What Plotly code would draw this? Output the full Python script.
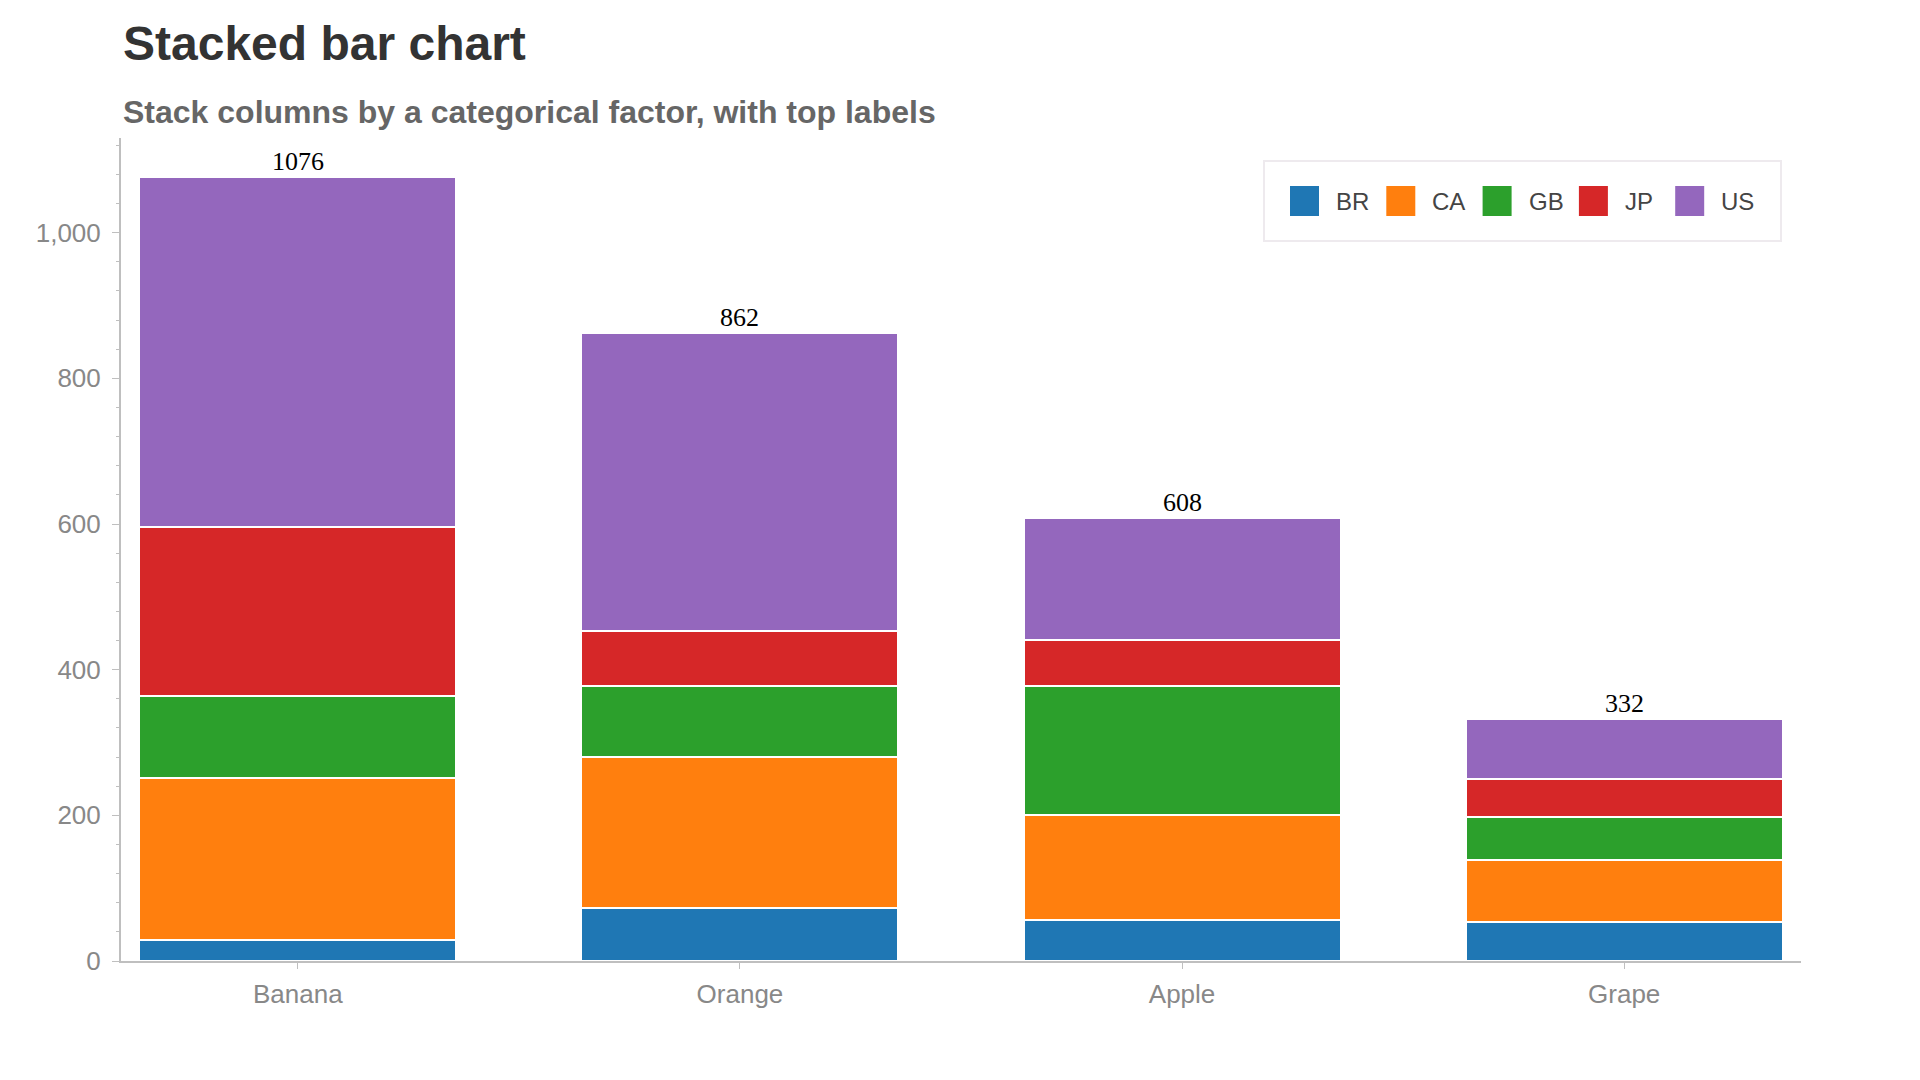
import plotly.graph_objects as go

categories = ["Banana", "Orange", "Apple", "Grape"]
series_names = ["BR", "CA", "GB", "JP", "US"]
BR = [29, 73, 56, 53]
CA = [222, 207, 144, 86]
GB = [113, 97, 177, 59]
JP = [232, 76, 64, 52]
US = [480, 409, 167, 82]
colors = ["#1f77b4", "#ff7f0e", "#2ca02c", "#d62728", "#9467bd"]

series_values = [BR, CA, GB, JP, US]
totals = [sum(v) for v in zip(*series_values)]

# The page body has a default 8px margin; size the figure so it fills the window exactly
OFF = 8
PAGE_W, PAGE_H = 1920, 1080
W, H = PAGE_W - OFF, PAGE_H - OFF
# plot area in page pixels
P_L, P_R, P_T, P_B = 121, 1801, 138, 961
ML, MR, MT, MB = P_L - OFF, PAGE_W - P_R, P_T - OFF, PAGE_H - P_B
PW, PH = P_R - P_L, P_B - P_T

def px(x):
    return (x - P_L) / PW

def py(y):
    return (P_B - y) / PH

fig = go.Figure()
for name, vals, col in zip(series_names, series_values, colors):
    fig.add_trace(go.Bar(
        x=categories, y=vals, name=name,
        marker=dict(color=col, line=dict(color="white", width=2)),
        showlegend=False,
    ))

annotations = []
for cat, tot in zip(categories, totals):
    annotations.append(dict(
        x=cat, y=tot, xref="x", yref="y", text=str(tot), showarrow=False,
        yanchor="bottom", xanchor="center", yshift=-1,
        font=dict(family="Liberation Serif, Times New Roman, serif", size=26, color="black"),
    ))

# Title and subtitle
annotations.append(dict(
    x=0, y=py(43), xref="paper", yref="paper", xanchor="left", yanchor="middle",
    text="<b>Stacked bar chart</b>", showarrow=False,
    font=dict(family="Liberation Sans, Arial, sans-serif", size=48, color="#333333"),
))
annotations.append(dict(
    x=0, y=py(112), xref="paper", yref="paper", xanchor="left", yanchor="middle",
    text="<b>Stack columns by a categorical factor, with top labels</b>", showarrow=False,
    font=dict(family="Liberation Sans, Arial, sans-serif", size=32, color="#666666"),
))

# Legend (drawn manually to match large square swatches)
shapes = []
LB_L, LB_R, LB_T, LB_B = 1264, 1781, 161, 241
shapes.append(dict(type="rect", xref="paper", yref="paper",
                   x0=px(LB_L), x1=px(LB_R), y0=py(LB_B), y1=py(LB_T),
                   line=dict(color="#eeeaee", width=2), fillcolor="white", layer="above"))
item_x0, pitch, sq_w, sq_top, sq_bot = 1290, 96.3, 29, 186, 216
for i, (name, col) in enumerate(zip(series_names, colors)):
    x0 = item_x0 + i * pitch
    shapes.append(dict(type="rect", xref="paper", yref="paper",
                       x0=px(x0), x1=px(x0 + sq_w), y0=py(sq_bot), y1=py(sq_top),
                       line=dict(width=0), fillcolor=col, layer="above"))
    annotations.append(dict(
        x=px(x0 + sq_w + 15), y=py((sq_top + sq_bot) / 2), xref="paper", yref="paper",
        xanchor="left", yanchor="middle", text=name, showarrow=False,
        font=dict(family="Liberation Sans, Arial, sans-serif", size=24, color="#444444"),
    ))

axis_color = "#bfbfbf"
tick_font = dict(family="Liberation Sans, Arial, sans-serif", size=26, color="#888888")

fig.update_layout(
    width=W, height=H,
    margin=dict(l=ML, r=MR, t=MT, b=MB, pad=0),
    barmode="stack", bargap=0.283,
    plot_bgcolor="white", paper_bgcolor="white",
    annotations=annotations, shapes=shapes,
    xaxis=dict(
        range=[-0.4, 3.4], showline=True, linecolor=axis_color, linewidth=2,
        ticks="outside", ticklen=6, tickwidth=1, tickcolor=axis_color,
        showgrid=False, zeroline=False, tickfont=tick_font, ticklabelstandoff=3,
    ),
    yaxis=dict(
        range=[0, 1130], showline=True, linecolor=axis_color, linewidth=2,
        ticks="outside", ticklen=7, tickwidth=1, tickcolor=axis_color,
        dtick=200, tick0=0, tickformat=",d",
        minor=dict(dtick=40, ticks="outside", ticklen=3, tickcolor=axis_color, showgrid=False),
        showgrid=False, zeroline=False, tickfont=tick_font, ticklabelstandoff=6,
    ),
)

fig.write_html("out.html")
